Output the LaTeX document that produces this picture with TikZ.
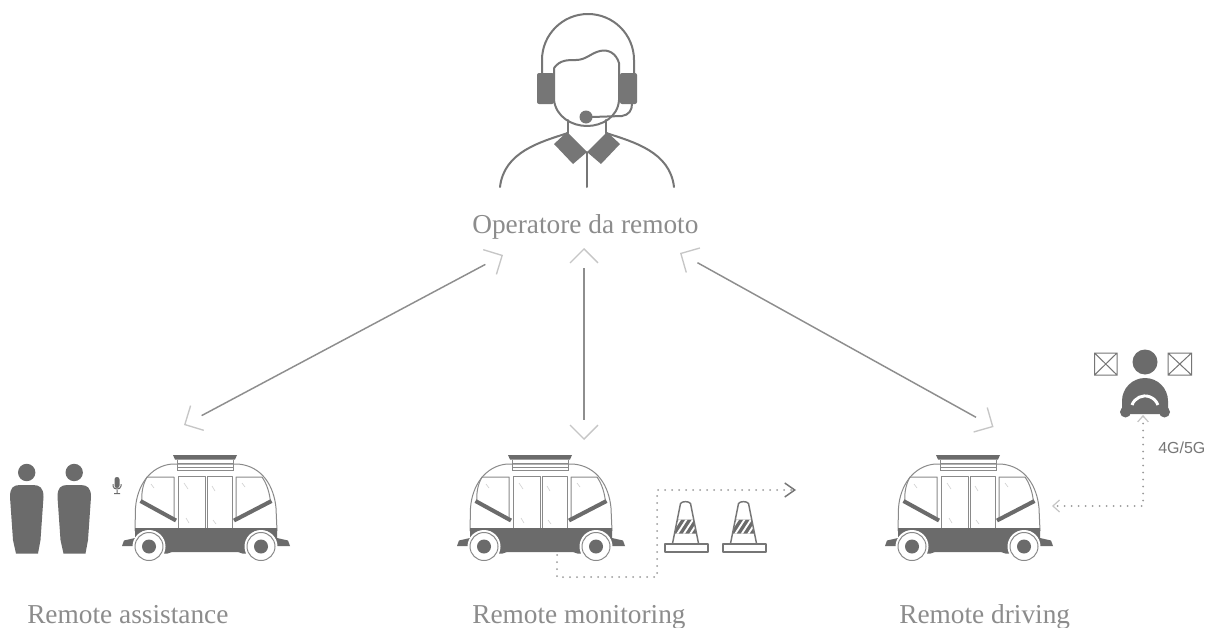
\documentclass[tikz,border=0pt]{standalone}
\usepackage{fontspec}
\setmainfont{Liberation Serif}
\newfontfamily\labelsans{Liberation Sans}
\usetikzlibrary{arrows.meta}

\definecolor{figgray}{HTML}{767676}
\definecolor{vdark}{HTML}{6B6B6B}
\definecolor{vline}{HTML}{8A8A8A}
\definecolor{glare}{HTML}{D2D2D2}
\definecolor{txtgray}{HTML}{8C8C8C}
\definecolor{conngray}{HTML}{8E8E8E}
\definecolor{chevgray}{HTML}{C6C6C6}
\definecolor{dotgray}{HTML}{9A9A9A}

\tikzset{
  figline/.style={draw=figgray, line width=1.5pt, line cap=round, line join=round},
  vthin/.style={draw=vline, line width=0.75pt, line join=round},
  stripe/.style={draw=vdark, line width=3pt, line cap=butt},
  coneline/.style={draw=figgray, line width=1.1pt, line join=round},
  caption/.style={font=\fontsize{20.5}{24}\selectfont, text=txtgray, inner sep=0pt, anchor=base west},
  link/.style={draw=conngray, line width=1.1pt, shorten <=15pt, shorten >=15pt},
  linkheads/.style={draw=chevgray, line width=1pt, line cap=butt, dash pattern=on 0pt off 3000pt,
    arrows={Straight Barb[length=10.5pt,width=21pt]-Straight Barb[length=10.5pt,width=21pt]}},
  dots/.style={draw=dotgray, line width=1.5pt, line cap=round, dash pattern=on 0pt off 5.25pt},
  % autonomous shuttle, drawn in the coordinates of the left one
  shuttle/.pic={
    % body shell
    \draw[vthin, fill=white] (135,531) -- (135.5,508) .. controls (137,486) and (150,466) .. (172,464)
      -- (238,464) .. controls (262,466) and (274,486) .. (276,508) -- (277,531);
    % roof unit
    \fill[vdark] (173,455) -- (237,455) -- (235,459.5) -- (175,459.5) -- cycle;
    \draw[vthin] (177,459.5) -- (177,471) (233,459.5) -- (233,471)
      (177,463.5) -- (233,463.5) (177,467) -- (233,467) (177,470.5) -- (233,470.5);
    % windows and doors
    \draw[vthin] (147,477) -- (174,477) -- (174,520) -- (142,503) .. controls (141,493) and (143,484) .. (147,477) -- cycle;
    \draw[vthin] (236,477) -- (262,477) .. controls (267,484) and (270,494) .. (270.5,503) -- (236,520) -- cycle;
    \draw[vthin] (178,476) rectangle (205.5,533) (207,476) rectangle (232,533);
    \draw[draw=glare, line width=0.5pt] (151,484) -- (154,488) (184,483) -- (188,489) (186,518) -- (189,523)
      (212,486) -- (215,491) (213,520) -- (216,524) (242,483) -- (245,487);
    \draw[stripe] (140.5,501) -- (176,520.5);
    \draw[stripe] (234,520.5) -- (271.5,501);
    % lower band, bumpers and chassis
    \fill[vdark] (122,546) -- (124,540.5) -- (135,538) -- (135,528) -- (277,528) -- (277,538)
      -- (288,540.5) -- (290,546) -- cycle;
    \fill[vdark] (160,537) -- (250,537) -- (250,549) .. controls (250,554) and (244,555) .. (238,552)
      -- (172,552) .. controls (166,555) and (160,554) .. (160,549) -- cycle;
    % wheels
    \fill[white] (149,546.5) circle[radius=16.5] (261,546.5) circle[radius=16.5];
    \draw[vthin, fill=white] (149,546.5) circle[radius=14] (261,546.5) circle[radius=14];
    \fill[vdark] (149,546.5) circle[radius=7] (261,546.5) circle[radius=7];
  },
  % traffic cone, drawn in the coordinates of the first one
  trafficcone/.pic={
    \fill[vdark] (677.3,519.5) -- (693.7,519.5) -- (696.5,533.5) -- (674.5,533.5) -- cycle;
    \begin{scope}
      \clip (677.3,519.5) -- (693.7,519.5) -- (696.5,533.5) -- (674.5,533.5) -- cycle;
      \draw[white, line width=1.4pt] (670,535) -- (681,518) (676.5,535) -- (687.5,518)
        (683,535) -- (694,518) (689.5,535) -- (700.5,518);
    \end{scope}
    \draw[coneline] (672.5,543.5) -- (680.5,503.5) .. controls (682,501) and (689,501) .. (690.5,503.5) -- (698.5,543.5);
    \draw[coneline] (665,544) rectangle (708,552);
  },
  person/.pic={
    \fill[vdark] (26.7,472.5) circle[radius=8.7];
    \fill[vdark] (10,497) .. controls (10,488) and (13,485) .. (20,485) -- (33,485)
      .. controls (40,485) and (43.5,488) .. (43.5,497) -- (40.5,540) -- (38,553.5) -- (16,553.5) -- (13,540) -- cycle;
  }
}

\begin{document}
\begin{tikzpicture}[x=0.75pt, y=-0.75pt]
\useasboundingbox (0,0) rectangle (1214,628);
\fill[white] (0,0) rectangle (1214,628);

% ---------- remote operator with headset ----------
\draw[figline] (542,73) -- (542,60) arc[start angle=180, end angle=360, radius=46] -- (634,73);
\fill[figgray, rounded corners=1.5pt] (537,73) rectangle (554,104);
\fill[figgray, rounded corners=1.5pt] (620,73) rectangle (637,104);
\draw[figline] (554,68) -- (554,100) .. controls (556,117) and (572,126) .. (587,126)
  .. controls (602,126) and (618,117) .. (619,100) -- (619,63)
  .. controls (616,53) and (608,49) .. (600,51) .. controls (591,53) and (586,60) .. (576,60)
  .. controls (567,60) and (560,60) .. (554,68);
\draw[figline] (568,120) -- (568,133) (606,120) -- (606,133);
\draw[figline] (568,133) .. controls (540,142) and (504,152) .. (500,187);
\draw[figline] (606,133) .. controls (634,142) and (670,152) .. (674,187);
\draw[figline] (587,152) -- (587,187);
\fill[figgray] (554,144) -- (567,132) -- (587,152) -- (573,164) -- cycle;
\fill[figgray] (620,144) -- (607,132) -- (587,152) -- (601,164) -- cycle;
\fill[figgray] (586,117) circle[radius=6.5];
\draw[figline] (592,117) -- (622,116) .. controls (629,115) and (632,110) .. (632,104);

\node[caption] (opname) at (472,233) {Operatore da remoto};

% ---------- links between operator and the three modes ----------
\coordinate (opL) at (503,255);
\coordinate (asL) at (184,425);
\coordinate (opT) at (584,248);
\coordinate (moB) at (584,440);
\coordinate (opR) at (680,253);
\coordinate (drR) at (993.5,427);
\draw[link] (opL) -- (asL);
\draw[linkheads] (opL) -- (asL);
\draw[link] (opT) -- (moB);
\draw[linkheads] (opT) -- (moB);
\draw[link] (opR) -- (drR);
\draw[linkheads] (opR) -- (drR);

% ---------- remote assistance ----------
\pic at (0,0) {person};
\pic at (47.5,0) {person};
\fill[vdark, rounded corners=1.8pt] (114.5,477) rectangle (119.5,488);
\draw[draw=vdark, line width=0.75pt] (113,484) -- (113,486) .. controls (113,490) and (121,490) .. (121,486) -- (121,484)
  (117,490) -- (117,493.5) (114,493.5) -- (120,493.5);
\pic at (0,0) {shuttle};

% ---------- remote monitoring ----------
\pic at (335,0) {shuttle};
\pic at (0,0) {trafficcone};
\pic at (58,0) {trafficcone};
\coordinate (mstart) at (557,555);
\coordinate (mturn) at (657,577);
\coordinate (mend) at (796,490);
\draw[dots, arrows={-Straight Barb[length=7.5pt, width=10.5pt, color=figgray, line width=1.1pt]}]
  (mstart) |- (mturn) |- (mend);

% ---------- remote driving ----------
\draw[draw=figgray, line width=0.75pt] (1094.5,353) rectangle (1117,375) (1094.5,353) -- (1117,375) (1094.5,375) -- (1117,353);
\draw[draw=figgray, line width=0.75pt] (1168,353) rectangle (1191.5,375) (1168,353) -- (1191.5,375) (1168,375) -- (1191.5,353);
\fill[vdark] (1145,362) circle[radius=12.5];
\fill[vdark] (1122,414) -- (1122,401) arc[start angle=180, end angle=360, radius=23] -- (1168,414) -- cycle;
\fill[vdark] (1125.5,412) circle[radius=5.5] (1164.5,412) circle[radius=5.5];
\draw[white, line width=2.2pt] (1132,405) arc[start angle=200, end angle=340, radius=13.8];
\pic at (763,0) {shuttle};
\coordinate (drvlink) at (1143,415);
\coordinate (vehlink) at (1052,506);
\draw[dots, arrows={Straight Barb[length=4.5pt, width=8pt, color=chevgray, line width=0.9pt]-Straight Barb[length=5pt, width=9pt, color=chevgray, line width=0.9pt]}]
  (drvlink) |- (vehlink);
\node[font=\labelsans\fontsize{12}{14}\selectfont, text=figgray, inner sep=0pt, anchor=base west] (net) at (1158,453) {4G/5G};

% ---------- captions ----------
\node[caption] (lblA) at (27,623) {Remote assistance};
\node[caption] (lblM) at (472,623) {Remote monitoring};
\node[caption] (lblD) at (899,623) {Remote driving};
\end{tikzpicture}
\end{document}
